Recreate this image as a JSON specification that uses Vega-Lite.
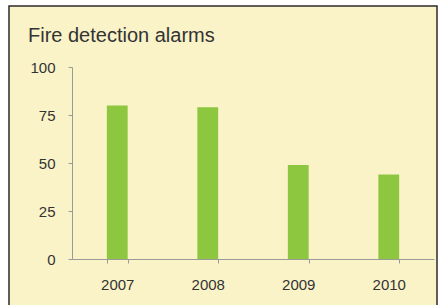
{
  "$schema": "https://vega.github.io/schema/vega-lite/v6.json",
  "width": 428,
  "height": 303,
  "autosize": {"type": "none"},
  "padding": {"left": 9, "top": 6, "right": 3, "bottom": -4},
  "background": "white",
  "config": {"view": {"fill": "#FAF3C8", "stroke": "#2b2b2b", "strokeWidth": 1.5}},
  "title": {"text": "Fire detection alarms", "anchor": "start", "frame": "group", "orient": "top", "offset": 0, "dx": 19, "dy": 56, "baseline": "alphabetic", "font": "Liberation Sans", "fontSize": 20, "fontWeight": "normal", "color": "#333333"},
  "data": {"values": [
    {"year": "2007", "alarms": 80},
    {"year": "2008", "alarms": 79},
    {"year": "2009", "alarms": 49},
    {"year": "2010", "alarms": 44}
  ]},
  "mark": {"type": "bar", "color": "#8DC63F"},
  "encoding": {
    "x": {"field": "year", "type": "ordinal",
      "scale": {"range": [63, 425], "paddingInner": 0.77, "paddingOuter": 0.385},
      "axis": {"orient": "bottom", "offset": -50, "title": null, "labelAngle": 0, "tickBand": "extent", "tickSize": 4, "labelPadding": 14, "labelFont": "Liberation Sans", "labelFontSize": 15, "labelColor": "#333333", "domainColor": "#9a9a9a", "tickColor": "#9a9a9a", "grid": false}},
    "y": {"field": "alarms", "type": "quantitative",
      "scale": {"domain": [0, 100], "range": [253, 61], "nice": false},
      "axis": {"orient": "left", "offset": -63, "title": null, "values": [0, 25, 50, 75, 100], "tickSize": 4, "labelPadding": 13, "labelFont": "Liberation Sans", "labelFontSize": 15, "labelColor": "#333333", "domainColor": "#9a9a9a", "tickColor": "#9a9a9a", "grid": false}}
  }
}
